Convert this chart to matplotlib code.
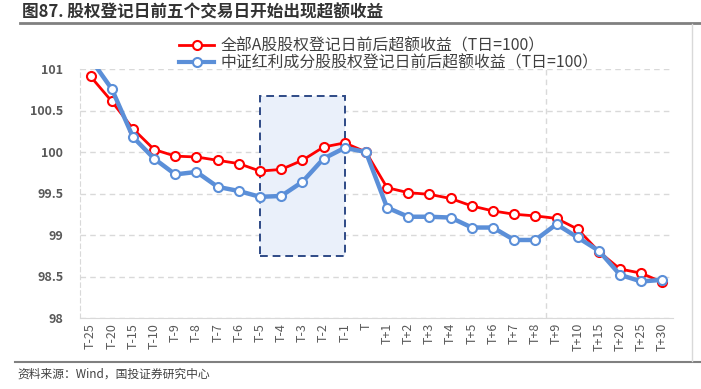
import matplotlib
matplotlib.use("Agg")
import matplotlib.pyplot as plt
from matplotlib.patches import Rectangle
from matplotlib.lines import Line2D

plt.rcParams['font.family'] = ['Noto Sans CJK SC', 'DejaVu Sans']

# data
labels = ["T-25", "T-20", "T-15", "T-10", "T-9", "T-8", "T-7", "T-6", "T-5", "T-4",
          "T-3", "T-2", "T-1", "T", "T+1", "T+2", "T+3", "T+4", "T+5", "T+6",
          "T+7", "T+8", "T+9", "T+10", "T+15", "T+20", "T+25", "T+30"]
all_a = [100.91, 100.61, 100.28, 100.03, 99.95, 99.94, 99.90, 99.86, 99.77, 99.79,
         99.90, 100.06, 100.11, 100.00, 99.57, 99.51, 99.49, 99.44, 99.35, 99.29,
         99.25, 99.23, 99.20, 99.07, 98.80, 98.59, 98.54, 98.43]
dividend = [101.12, 100.76, 100.18, 99.92, 99.73, 99.76, 99.58, 99.53, 99.46, 99.47,
            99.64, 99.92, 100.05, 100.00, 99.33, 99.22, 99.22, 99.21, 99.09, 99.09,
            98.94, 98.94, 99.13, 98.97, 98.81, 98.52, 98.44, 98.46]
name_a = "全部A股股权登记日前后超额收益（T日=100）"
name_div = "中证红利成分股股权登记日前后超额收益（T日=100）"

x = list(range(len(labels)))
grey = "#595959"

fig = plt.figure(figsize=(7.01, 3.89), dpi=100)
ax = fig.add_axes([80 / 701, 1 - 318 / 389, 593 / 701, 249 / 389])

# highlighted window T-5 .. T-1
ax.add_patch(Rectangle((labels.index("T-5"), 98.75), 4, 1.92,
                       facecolor="#EAF0FA", edgecolor="#2E4A86",
                       linestyle=(0, (4, 2.5)), linewidth=1.4, zorder=1))

ax.plot(x, all_a, color="#FF0000", lw=2, marker="o", ms=6.5,
        mfc="white", mec="#FF0000", mew=1.5, zorder=3)
ax.plot(x, dividend, color="#5B8FD8", lw=3.2, marker="o", ms=6.5,
        mfc="white", mec="#5B8FD8", mew=1.5, zorder=4)

ax.set_xlim(-0.5, len(labels) - 0.5)
ax.set_ylim(98, 101)
ax.set_yticks([98, 98.5, 99, 99.5, 100, 100.5, 101])
ax.set_yticklabels(["98", "98.5", "99", "99.5", "100", "100.5", "101"])
ax.set_xticks(x)
ax.set_xticklabels(labels, rotation=90)
ax.tick_params(axis="both", length=0, colors=grey, labelsize=9)
ax.tick_params(axis="y", pad=12)
for t in ax.get_yticklabels():
    t.set_fontweight("bold")

ax.grid(axis="y", color="#D9D9D9", linestyle=(0, (4, 3)), linewidth=1)
ax.set_axisbelow(True)
for s in ("top", "right"):
    ax.spines[s].set_visible(False)
ax.spines["bottom"].set_color("#D9D9D9")
ax.spines["left"].set_color("#D9D9D9")
ax.spines["left"].set_linestyle((0, (4, 3)))
ax.axvline(21.5, ymin=0, ymax=1, color="#D9D9D9", lw=1, linestyle=(0, (4, 3)), zorder=0)

handles = [
    Line2D([], [], color="#FF0000", lw=2, marker="o", ms=6.5, mfc="white", mew=1.5),
    Line2D([], [], color="#5B8FD8", lw=3, marker="o", ms=6.5, mfc="white", mew=1.5),
]
fig.legend(handles, [name_a, name_div], loc="upper center",
           bbox_to_anchor=(389 / 701, 1 - 30 / 389), frameon=False,
           fontsize=11.4, labelcolor="#404040", handlelength=2.2,
           handletextpad=0.4, labelspacing=0.0, borderpad=0)

# title, rules and source
fig.text(22 / 701, 1 - 12 / 389, "图87. 股权登记日前五个交易日开始出现超额收益",
         fontsize=12, fontweight="bold", color="#333333", va="center")
fig.add_artist(Line2D([20 / 701, 1], [1 - 23 / 389] * 2, color="#808080", lw=2))
fig.add_artist(Line2D([15 / 701, 1], [1 - 362 / 389] * 2, color="#808080", lw=1.5))
fig.add_artist(Line2D([692 / 701] * 2, [1 - 24 / 389, 1 - 361 / 389], color="#D9D9D9", lw=1))
fig.text(17 / 701, 1 - 374 / 389, "资料来源：Wind，国投证券研究中心",
         fontsize=8.5, color="#404040", va="center", style="italic")

fig.savefig("out.png", dpi=100)
